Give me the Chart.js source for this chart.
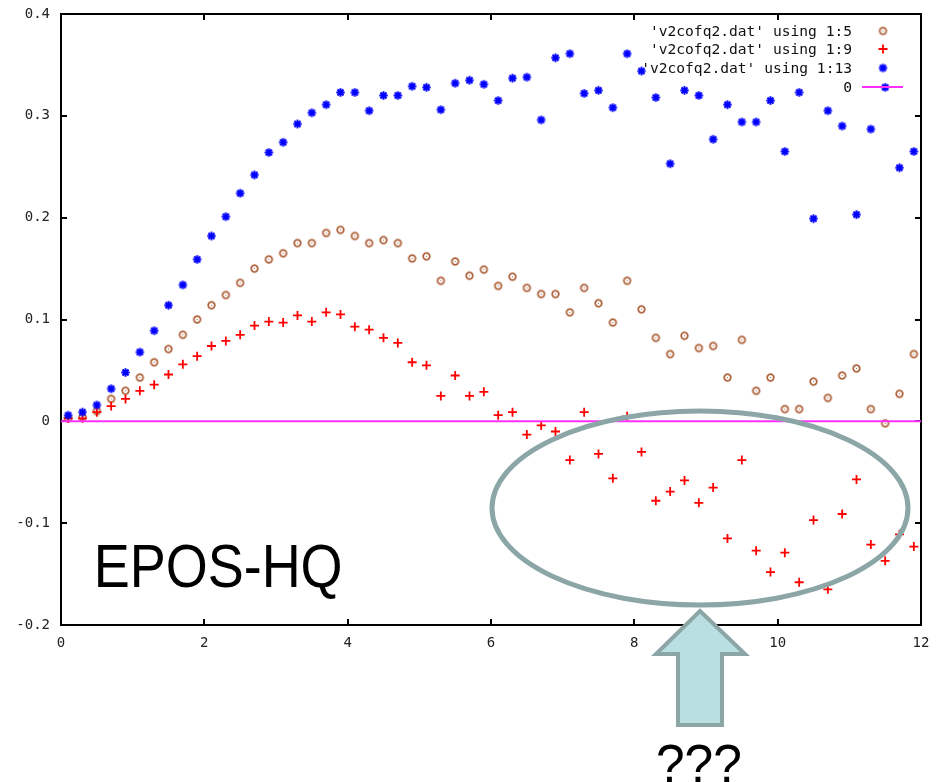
<!DOCTYPE html>
<html>
<head>
<meta charset="utf-8">
<script src="https://cdn.jsdelivr.net/npm/chart.js@4/dist/chart.umd.min.js"></script>
<style>
html,body{margin:0;padding:0;background:#fff;overflow:hidden;}
#wrap{position:relative;width:936px;height:782px;}
canvas{display:block;}
</style>
</head>
<body>
<div id="wrap"><canvas id="c" width="936" height="782"></canvas></div>
<script>
// ---- data ----
const xValues = [0.1,0.3,0.5,0.7,0.9,1.1,1.3,1.5,1.7,1.9,2.1,2.3,2.5,2.7,2.9,3.1,3.3,3.5,3.7,3.9,
  4.1,4.3,4.5,4.7,4.9,5.1,5.3,5.5,5.7,5.9,6.1,6.3,6.5,6.7,6.9,7.1,7.3,7.5,7.7,7.9,
  8.1,8.3,8.5,8.7,8.9,9.1,9.3,9.5,9.7,9.9,10.1,10.3,10.5,10.7,10.9,11.1,11.3,11.5,11.7,11.9];
const col5 = [0.003,0.004,0.010,0.022,0.030,0.043,0.058,0.071,0.085,0.100,0.114,0.124,0.136,0.150,0.159,0.165,0.175,0.175,0.185,0.188,
  0.182,0.175,0.178,0.175,0.160,0.162,0.138,0.157,0.143,0.149,0.133,0.142,0.131,0.125,0.125,0.107,0.131,0.116,0.097,0.138,
  0.110,0.082,0.066,0.084,0.072,0.074,0.043,0.080,0.030,0.043,0.012,0.012,0.039,0.023,0.045,0.052,0.012,-0.002,0.027,0.066];
const col9 = [0.003,0.003,0.009,0.015,0.022,0.030,0.036,0.046,0.056,0.064,0.074,0.079,0.085,0.094,0.098,0.097,0.104,0.098,0.107,0.105,
  0.093,0.090,0.082,0.077,0.058,0.055,0.025,0.045,0.025,0.029,0.006,0.009,-0.013,-0.004,-0.010,-0.038,0.009,-0.032,-0.056,0.005,
  -0.030,-0.078,-0.069,-0.058,-0.080,-0.065,-0.115,-0.038,-0.127,-0.148,-0.129,-0.158,-0.097,-0.165,-0.091,-0.057,-0.121,-0.137,-0.111,-0.123];
const col13 = [0.006,0.009,0.016,0.032,0.048,0.068,0.089,0.114,0.134,0.159,0.182,0.201,0.224,0.242,0.264,0.274,0.292,0.303,0.311,0.323,
  0.323,0.305,0.320,0.320,0.329,0.328,0.306,0.332,0.335,0.331,0.315,0.337,0.338,0.296,0.357,0.361,0.322,0.325,0.308,0.361,
  0.344,0.318,0.253,0.325,0.320,0.277,0.311,0.294,0.294,0.315,0.265,0.323,0.199,0.305,0.290,0.203,0.287,0.328,0.249,0.265];
const zeroLineX = [0, 12];
const zeroLineY = [0, 0];
const xTicks = [0, 2, 4, 6, 8, 10, 12];
const xTickLabels = ['0','2','4','6','8','10','12'];
const yTicks = [-0.2, -0.1, 0, 0.1, 0.2, 0.3, 0.4];
const yTickLabels = ['-0.2','-0.1','0','0.1','0.2','0.3','0.4'];
const seriesNames = ["'v2cofq2.dat' using 1:5", "'v2cofq2.dat' using 1:9", "'v2cofq2.dat' using 1:13", "0"];
const annotationMain = 'EPOS-HQ';
const annotationQ = '???';

// ---- styles ----
const BROWN = '#b0653f', RED = '#ff0000', BLUE = '#0000ff', MAGENTA = '#ff30ff';
const MONO = '"DejaVu Sans Mono", "Liberation Mono", monospace';
const SANS = '"Liberation Sans", Arial, sans-serif';

function ringImg(){
  const c = document.createElement('canvas'); c.width = 11; c.height = 11;
  const g = c.getContext('2d');
  g.strokeStyle = BROWN; g.lineWidth = 1.8;
  g.beginPath(); g.arc(5.5, 5.5, 3.3, 0, Math.PI*2); g.stroke();
  g.fillStyle = BROWN; g.fillRect(5, 5, 1, 1);
  return c;
}
function starImg(){
  const c = document.createElement('canvas'); c.width = 11; c.height = 11;
  const g = c.getContext('2d');
  g.strokeStyle = BLUE; g.lineWidth = 2; g.lineCap = 'butt';
  const r = 4.2, cx = 5.5, cy = 5.5, d = r*0.72;
  g.beginPath();
  g.moveTo(cx-r, cy); g.lineTo(cx+r, cy);
  g.moveTo(cx, cy-r); g.lineTo(cx, cy+r);
  g.moveTo(cx-d, cy-d); g.lineTo(cx+d, cy+d);
  g.moveTo(cx-d, cy+d); g.lineTo(cx+d, cy-d);
  g.stroke();
  g.fillStyle = BLUE; g.fillRect(3.5, 3.5, 4, 4);
  return c;
}
const RING = ringImg(), STAR = starImg();

const pts = ys => xValues.map((x, i) => ({x: x, y: ys[i]}));

// draw text so that its ink box fits [x0,x1] horizontally and [top,base] vertically
function fitText(ctx, text, font, x0, x1, top, base, capRef){
  ctx.save();
  ctx.font = '100px ' + font;
  ctx.textAlign = 'left'; ctx.textBaseline = 'alphabetic';
  const m = ctx.measureText(text);
  const cap = ctx.measureText(capRef).actualBoundingBoxAscent;
  const inkW = m.actualBoundingBoxRight + m.actualBoundingBoxLeft;
  const sy = (base - top) / cap;
  const sx = (x1 - x0) / inkW;
  ctx.translate(x0, base);
  ctx.scale(sx, sy);
  ctx.fillText(text, m.actualBoundingBoxLeft, 0);
  ctx.restore();
}

const framePlugin = {
  id: 'frame',
  beforeDatasetsDraw(chart){
    const {ctx, chartArea: a, scales} = chart;
    ctx.save();
    ctx.strokeStyle = '#000'; ctx.lineWidth = 2;
    ctx.strokeRect(a.left, a.top, a.right - a.left, a.bottom - a.top);
    ctx.beginPath();
    xTicks.forEach(v => {
      const px = Math.round(scales.x.getPixelForValue(v));
      if (px <= a.left + 2 || px >= a.right - 2) return;
      ctx.moveTo(px, a.bottom); ctx.lineTo(px, a.bottom - 6);
      ctx.moveTo(px, a.top); ctx.lineTo(px, a.top + 6);
    });
    yTicks.forEach(v => {
      const py = Math.round(scales.y.getPixelForValue(v));
      if (py <= a.top + 2 || py >= a.bottom - 2) return;
      ctx.moveTo(a.left, py); ctx.lineTo(a.left + 6, py);
      ctx.moveTo(a.right, py); ctx.lineTo(a.right - 6, py);
    });
    ctx.stroke();
    ctx.restore();
  },
  afterDraw(chart){
    const ctx = chart.ctx;
    ctx.save();
    // legend
    ctx.font = '14.6px ' + MONO;
    ctx.fillStyle = '#111';
    ctx.textAlign = 'right'; ctx.textBaseline = 'middle';
    const rows = [31, 49, 68, 87];
    seriesNames.forEach((t, i) => ctx.fillText(t, 852, rows[i] + 1));
    ctx.drawImage(RING, 883 - 5.5, rows[0] - 5.5);
    ctx.strokeStyle = RED; ctx.lineWidth = 1.8;
    ctx.beginPath();
    ctx.moveTo(883 - 4.5, rows[1]); ctx.lineTo(883 + 4.5, rows[1]);
    ctx.moveTo(883, rows[1] - 4.5); ctx.lineTo(883, rows[1] + 4.5);
    ctx.stroke();
    ctx.drawImage(STAR, 883 - 5.5, rows[2] - 5.5);
    ctx.strokeStyle = MAGENTA; ctx.lineWidth = 2;
    ctx.beginPath(); ctx.moveTo(862, rows[3]); ctx.lineTo(903, rows[3]); ctx.stroke();

    // ellipse annotation
    ctx.strokeStyle = '#8ca6a8'; ctx.lineWidth = 5;
    ctx.beginPath(); ctx.ellipse(700, 508, 208, 97, 0, 0, Math.PI*2); ctx.stroke();

    // arrow
    ctx.beginPath();
    ctx.moveTo(700, 611);
    ctx.lineTo(745, 654);
    ctx.lineTo(722, 654);
    ctx.lineTo(722, 725);
    ctx.lineTo(678, 725);
    ctx.lineTo(678, 654);
    ctx.lineTo(656, 654);
    ctx.closePath();
    ctx.fillStyle = '#b9dfe1'; ctx.fill();
    ctx.strokeStyle = '#8ca6a8'; ctx.lineWidth = 4; ctx.lineJoin = 'miter'; ctx.stroke();

    // texts
    ctx.fillStyle = '#000';
    fitText(ctx, annotationMain, SANS, 98, 340, 545, 587, 'E');
    fitText(ctx, annotationQ, SANS, 658, 740, 744, 782, '?');
    ctx.restore();
  }
};

new Chart(document.getElementById('c'), {
  type: 'scatter',
  data: {
    datasets: [
      { label: seriesNames[3], data: zeroLineX.map((x, i) => ({x: x, y: zeroLineY[i]})), type: 'line', showLine: true,
        borderColor: MAGENTA, borderWidth: 2, pointRadius: 0, fill: false, order: 0 },
      { label: seriesNames[2], data: pts(col13), pointStyle: STAR, pointRadius: 5, order: 1 },
      { label: seriesNames[1], data: pts(col9), pointStyle: 'cross', pointRadius: 4.5, borderColor: RED, borderWidth: 1.8, order: 2 },
      { label: seriesNames[0], data: pts(col5), pointStyle: RING, pointRadius: 5, order: 3 }
    ]
  },
  options: {
    responsive: false,
    animation: false,
    devicePixelRatio: 1,
    layout: { padding: { left: 0, top: 14, right: 15, bottom: 0 } },
    plugins: { legend: { display: false }, tooltip: { enabled: false } },
    scales: {
      x: {
        type: 'linear', min: 0, max: 12,
        afterBuildTicks: s => { s.ticks = xTicks.map(v => ({value: v})); },
        afterFit: s => { s.height = 157; s.paddingLeft = 0; s.paddingRight = 0; },
        grid: { display: false, drawTicks: false },
        border: { display: false },
        ticks: { padding: 10, color: '#222', font: { family: MONO, size: 14 },
          callback: v => xTickLabels[xTicks.indexOf(v)], maxRotation: 0, autoSkip: false }
      },
      y: {
        type: 'linear', min: -0.2, max: 0.4,
        afterBuildTicks: s => { s.ticks = yTicks.map(v => ({value: v})); },
        afterFit: s => { s.width = 61; s.paddingTop = 0; s.paddingBottom = 0; },
        grid: { display: false, drawTicks: false },
        border: { display: false },
        ticks: { padding: 11, color: '#222', font: { family: MONO, size: 14 },
          callback: v => { const i = yTicks.findIndex(t => Math.abs(t - v) < 1e-9); return yTickLabels[i]; }, autoSkip: false }
      }
    }
  },
  plugins: [framePlugin]
});
</script>
</body>
</html>
